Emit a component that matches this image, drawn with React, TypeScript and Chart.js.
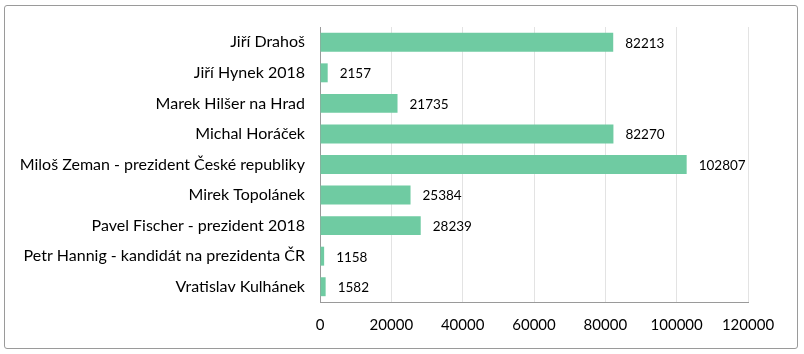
import React, { useEffect, useRef } from "react";
import { Chart, registerables } from "chart.js";

Chart.register(...registerables);

const categories = [
  "Jiří Drahoš",
  "Jiří Hynek 2018",
  "Marek Hilšer na Hrad",
  "Michal Horáček",
  "Miloš Zeman - prezident České republiky",
  "Mirek Topolánek",
  "Pavel Fischer - prezident 2018",
  "Petr Hannig - kandidát na prezidenta ČR",
  "Vratislav Kulhánek",
];
const values = [82213, 2157, 21735, 82270, 102807, 25384, 28239, 1158, 1582];
const xMin = 0;
const xMax = 120000;
const xStep = 20000;

const FONT = "Lato, 'Open Sans', sans-serif";

const valueLabels = {
  id: "valueLabels",
  afterDatasetsDraw(chart: any) {
    const ctx = chart.ctx;
    const meta = chart.getDatasetMeta(0);
    ctx.save();
    ctx.font = `13.5px ${FONT}`;
    ctx.fillStyle = "#000";
    ctx.textAlign = "left";
    ctx.textBaseline = "middle";
    meta.data.forEach((bar: any, i: number) => {
      ctx.fillText(String(values[i]), bar.x + 12, bar.y + 1);
    });
    ctx.restore();
  },
};

export default function App() {
  const ref = useRef<HTMLCanvasElement>(null);
  useEffect(() => {
    if (!ref.current) return;
    const chart = new Chart(ref.current, {
      type: "bar",
      data: {
        labels: categories,
        datasets: [
          {
            data: values,
            backgroundColor: "#6fcba2",
            borderWidth: 0,
            barPercentage: 0.62,
            categoryPercentage: 1,
          },
        ],
      },
      options: {
        indexAxis: "y",
        animation: false,
        responsive: false,
        maintainAspectRatio: false,
        layout: { padding: { left: 0, right: 56, top: 27, bottom: 12 } },
        plugins: { legend: { display: false }, tooltip: { enabled: false } },
        scales: {
          x: {
            min: xMin,
            max: xMax,
            ticks: {
              stepSize: xStep,
              color: "#000",
              font: { family: FONT, size: 15 },
              padding: 14,
              maxRotation: 0,
              callback: (v: any) => String(v),
            },
            grid: { color: "#e3e3e3", drawTicks: false, lineWidth: 1 },
            border: { color: "#9a9a9a", width: 1 },
            afterFit: (s: any) => {
              s.height = 40;
            },
          },
          y: {
            ticks: {
              color: "#000",
              font: { family: FONT, size: 16 },
              padding: 15,
              autoSkip: false,
            },
            grid: { display: false, drawTicks: false },
            border: { color: "#9a9a9a", width: 1 },
            afterFit: (s: any) => {
              s.width = 320;
            },
          },
        },
      },
      plugins: [valueLabels],
    });
    return () => chart.destroy();
  }, []);
  return (
    <div style={{ position: "fixed", left: 0, top: 0, width: 804, height: 354, background: "#fff" }}>
      <div
        style={{
          position: "absolute",
          left: 4,
          top: 5,
          width: 794,
          height: 344,
          border: "1px solid #9a9a9a",
          borderRadius: 3,
          boxSizing: "border-box",
        }}
      />
      <canvas ref={ref} width={804} height={354} style={{ position: "absolute", left: 0, top: 0 }} />
    </div>
  );
}
